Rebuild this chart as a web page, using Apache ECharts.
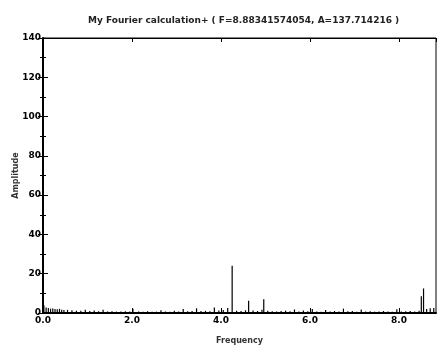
<!DOCTYPE html>
<html>
<head>
<meta charset="utf-8">
<script src="https://cdn.jsdelivr.net/npm/echarts@6/dist/echarts.min.js"></script>
<style>
  html, body { margin: 0; padding: 0; background: #fff; }
  #chart { width: 437px; height: 346px; }
</style>
</head>
<body>
<div id="chart"></div>
<script>
// spectrum
const titleText = "My Fourier calculation+ ( F=8.88341574054, A=137.714216 )";
const freqs = [
  0.02, 0.07, 0.12, 0.17, 0.22, 0.27, 0.32, 0.37, 0.42, 0.47,
  0.55, 0.65, 0.75, 0.85, 0.95, 1.05, 1.15, 1.25, 1.35, 1.45,
  1.55, 1.65, 1.75, 1.85, 1.95, 2.02, 2.15, 2.25, 2.35, 2.45,
  2.55, 2.65, 2.75, 2.85, 2.95, 3.05, 3.15, 3.25, 3.35, 3.45,
  3.55, 3.65, 3.75, 3.85, 3.95, 4.05, 4.15, 4.25, 4.35, 4.45,
  4.55, 4.62, 4.72, 4.82, 4.92, 4.96, 5.05, 5.15, 5.25, 5.35,
  5.45, 5.55, 5.65, 5.75, 5.85, 5.95, 6.05, 6.15, 6.25, 6.35,
  6.45, 6.55, 6.65, 6.75, 6.85, 6.95, 7.05, 7.15, 7.25, 7.35,
  7.45, 7.55, 7.65, 7.75, 7.85, 7.95, 8.05, 8.15, 8.25, 8.35,
  8.45, 8.50, 8.55, 8.62, 8.70, 8.78
];
const amps = [
  4.0, 2.8, 2.6, 2.2, 2.3, 2.0, 1.9, 2.1, 1.6, 1.5,
  1.6, 1.4, 1.2, 1.1, 1.6, 1.0, 1.3, 0.9, 1.7, 0.8,
  0.9, 0.7, 0.8, 0.9, 0.8, 2.2, 0.8, 0.7, 0.9, 0.6,
  0.7, 1.4, 0.8, 0.7, 1.2, 0.8, 2.1, 0.9, 1.0, 2.4,
  1.0, 1.1, 0.9, 2.8, 1.3, 1.5, 2.5, 24.0, 1.2, 1.0,
  1.4, 6.2, 1.3, 1.0, 1.6, 7.0, 1.2, 0.9, 0.8, 1.0,
  1.2, 0.9, 1.8, 0.8, 1.3, 0.9, 2.0, 0.8, 0.7, 1.5,
  0.8, 1.0, 0.8, 2.2, 0.9, 1.0, 0.7, 1.8, 0.8, 0.9,
  0.7, 0.8, 1.0, 0.8, 0.7, 1.9, 0.8, 0.9, 1.0, 0.8,
  1.1, 8.5, 12.5, 2.0, 2.4, 2.6
];
const xMax = 8.83;
const yMax = 140;

const chart = echarts.init(document.getElementById("chart"));

const data = freqs.map((f, i) => [f, amps[i]]);

const labelStyle = {
  color: "#000",
  fontFamily: "DejaVu Sans",
  fontWeight: "bold",
  fontSize: 9,
};

chart.setOption({
  animation: false,
  backgroundColor: "#fff",
  title: {
    text: titleText,
    left: 83,
    top: 11,
    textStyle: {
      color: "#222",
      fontFamily: "DejaVu Sans",
      fontWeight: "bold",
      fontSize: 9,
    },
  },
  grid: {
    left: 43,
    right: 1,
    top: 38,
    bottom: 33,
    outerBoundsMode: "none",
    show: true,
    borderColor: "#000",
    borderWidth: 1,
    backgroundColor: "transparent",
  },
  xAxis: [
    {
      type: "value",
      min: 0,
      max: xMax,
      interval: 2,
      name: "Frequency",
      nameLocation: "middle",
      nameGap: 24,
      nameMoveOverlap: false,
      nameTextStyle: Object.assign({}, labelStyle, { fontSize: 8, color: "#333" }),
      axisLine: { onZero: false, lineStyle: { color: "#000", width: 2 } },
      axisTick: { inside: true, length: 5, lineStyle: { color: "#000" } },
      axisLabel: Object.assign({}, labelStyle, {
        margin: 3,
        showMaxLabel: false,
        formatter: (v) => v.toFixed(1),
      }),
      splitLine: { show: false },
    },
    {
      type: "value",
      position: "top",
      min: 0,
      max: xMax,
      interval: 2,
      axisLine: { onZero: false, lineStyle: { color: "#000" } },
      axisTick: { inside: true, length: 4, lineStyle: { color: "#000" } },
      axisLabel: { show: false },
      splitLine: { show: false },
    },
  ],
  yAxis: [
    {
      type: "value",
      min: 0,
      max: yMax,
      interval: 20,
      name: "Amplitude",
      nameLocation: "middle",
      nameGap: 23,
      nameMoveOverlap: false,
      nameRotate: 90,
      nameTextStyle: Object.assign({}, labelStyle, { fontSize: 8, color: "#333" }),
      axisLine: { show: true, lineStyle: { color: "#000", width: 2 } },
      axisTick: { inside: true, length: 5, lineStyle: { color: "#000" } },
      minorTick: { show: true, splitNumber: 2, length: 3, lineStyle: { color: "#000" } },
      axisLabel: Object.assign({}, labelStyle, { margin: 2 }),
      splitLine: { show: false },
    },
    {
      type: "value",
      position: "right",
      min: 0,
      max: yMax,
      interval: 20,
      axisLine: { show: true, lineStyle: { color: "#000" } },
      axisTick: { inside: true, length: 5, lineStyle: { color: "#000" } },
      minorTick: { show: true, splitNumber: 2, length: 3, lineStyle: { color: "#000" } },
      axisLabel: { show: false },
      splitLine: { show: false },
    },
  ],
  series: [
    {
      name: "Amplitude",
      type: "bar",
      barWidth: 1.2,
      itemStyle: { color: "#000" },
      data: data,
    },
  ],
});
</script>
</body>
</html>
